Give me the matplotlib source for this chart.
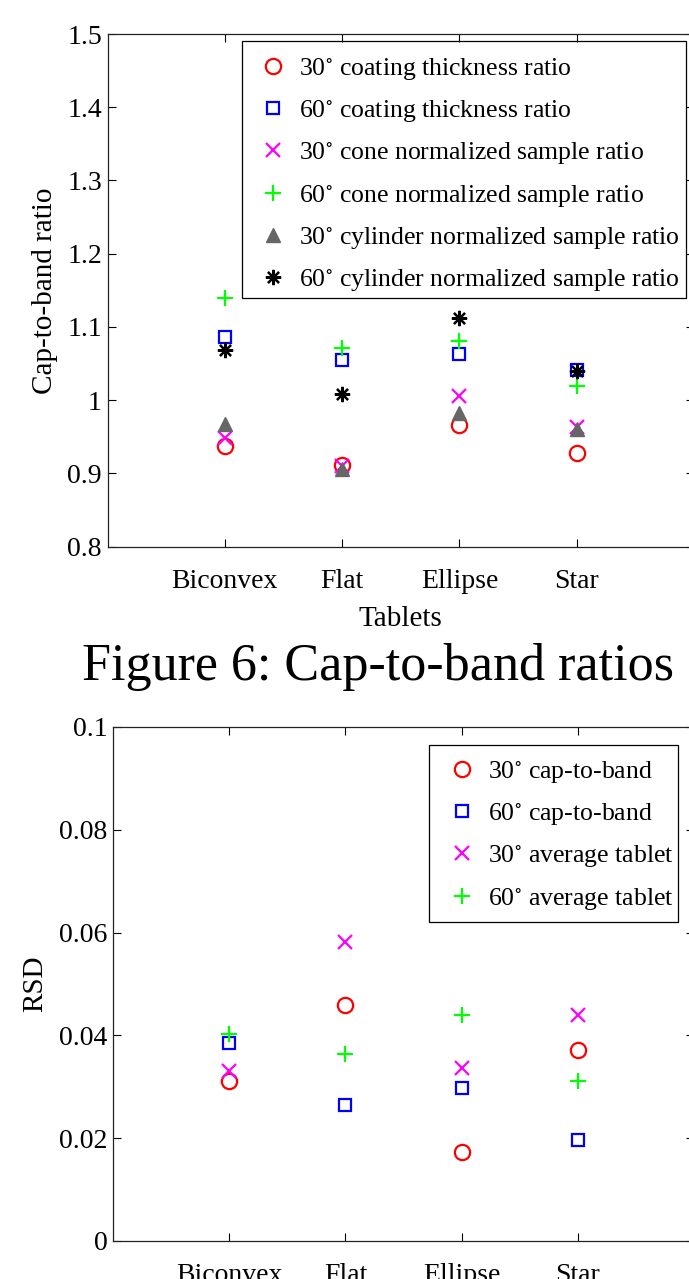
import numpy as np
import matplotlib
matplotlib.use("Agg")
import matplotlib.pyplot as plt
from matplotlib.ticker import FuncFormatter
from matplotlib.patches import Rectangle

plt.rcParams['font.family'] = ['Liberation Serif', 'DejaVu Serif']
plt.rcParams['mathtext.fontset'] = 'stix'

#### Data ####

tablets = ['Biconvex', 'Flat', 'Ellipse', 'Star']

# cap-to-band ratios (top plot)
coat30 = [0.937, 0.912, 0.966, 0.928]
coat60 = [1.086, 1.055, 1.063, 1.041]
cone30 = [0.948, 0.910, 1.005, 0.964]
cone60 = [1.140, 1.071, 1.081, 1.019]
cyl30 = [0.967, 0.906, 0.982, 0.961]
cyl60 = [1.069, 1.009, 1.112, 1.040]

# RSD (bottom plot)
rsd_cap30 = [0.0312, 0.0459, 0.0174, 0.0371]
rsd_cap60 = [0.0386, 0.0264, 0.0298, 0.0196]
rsd_avg30 = [0.0331, 0.0582, 0.0336, 0.0440]
rsd_avg60 = [0.0402, 0.0363, 0.0440, 0.0312]

deg = r'$^{\circ}$'
x = np.arange(1, len(tablets) + 1)

W, H = 689, 1279
fig = plt.figure(figsize=(W / 100, H / 100), dpi=100)
ax1 = fig.add_axes([107.5 / W, (H - 546.6) / H, 586.5 / W, 512.6 / H])
ax2 = fig.add_axes([113 / W, (H - 1241) / H, 581 / W, 514 / H])

gray = (0.4, 0.4, 0.4)
style = dict(linestyle='none')

def setup(ax):
    ax.set_xlim(0, 5)
    ax.set_xticks(x)
    ax.set_xticklabels(tablets)
    ax.tick_params(direction='in', top=True, right=True, length=6, width=0.8,
                   labelsize=20, colors='black')
    ax.tick_params(axis='x', pad=16)
    ax.tick_params(axis='y', pad=4)
    ax.yaxis.set_major_formatter(FuncFormatter(lambda v, p: '%g' % round(v, 4)))
    for s in ax.spines.values():
        s.set_linewidth(0.9)
        s.set_color('#222222')

def px_legend(ax, anchor, box):
    # legend text/markers placed from the anchor (pixels), frame drawn as a box
    leg = ax.legend(loc='upper left', bbox_to_anchor=(anchor[0] / W, 1 - anchor[1] / H),
                    bbox_transform=fig.transFigure, fontsize=18.5, frameon=False,
                    numpoints=1, handlelength=1.0, handletextpad=0.52,
                    borderpad=0, labelspacing=0.63, borderaxespad=0)
    x0, y0, x1, y1 = box
    fig.patches.append(Rectangle((x0 / W, 1 - y1 / H), (x1 - x0) / W, (y1 - y0) / H,
                                 transform=fig.transFigure, fill=False,
                                 edgecolor='black', linewidth=0.9))
    return leg

# top plot
ax1.plot(x, coat30, marker='o', ms=11, mew=1.6, mec='red', mfc='none', **style,
         label='30' + deg + ' coating thickness ratio')
ax1.plot(x, coat60, marker='s', ms=8.5, mew=1.6, mec='blue', mfc='none', **style,
         label='60' + deg + ' coating thickness ratio')
ax1.plot(x, cone30, marker='x', ms=10, mew=1.6, color='magenta', **style,
         label='30' + deg + ' cone normalized sample ratio')
ax1.plot(x, cone60, marker='+', ms=12, mew=1.6, color='lime', **style,
         label='60' + deg + ' cone normalized sample ratio')
ax1.plot(x, cyl30, marker='^', ms=10, mew=1, color=gray, **style,
         label='30' + deg + ' cylinder normalized sample ratio')
ax1.plot(x, cyl60, marker=(8, 2, 0), ms=11, mew=1.6, color='black', **style,
         label='60' + deg + ' cylinder normalized sample ratio')
setup(ax1)
ax1.set_ylim(0.8, 1.5)
ax1.set_yticks(np.arange(0.8, 1.55, 0.1))
ax1.set_xlabel('Tablets', fontsize=21, labelpad=8.5)
ax1.set_ylabel('Cap-to-band ratio', fontsize=21)
ax1.yaxis.set_label_coords(-0.085, 0.5)
px_legend(ax1, (260, 56), (242, 41, 686, 298))

# caption between plots
fig.text(82 / W, 1 - 680 / H, 'Figure 6: Cap-to-band ratios', fontsize=37.5,
         ha='left', va='baseline')

# bottom plot
ax2.plot(x, rsd_cap30, marker='o', ms=11, mew=1.6, mec='red', mfc='none', **style,
         label='30' + deg + ' cap-to-band')
ax2.plot(x, rsd_cap60, marker='s', ms=8.5, mew=1.6, mec='blue', mfc='none', **style,
         label='60' + deg + ' cap-to-band')
ax2.plot(x, rsd_avg30, marker='x', ms=10, mew=1.6, color='magenta', **style,
         label='30' + deg + ' average tablet')
ax2.plot(x, rsd_avg60, marker='+', ms=12, mew=1.6, color='lime', **style,
         label='60' + deg + ' average tablet')
setup(ax2)
ax2.set_ylim(0, 0.1)
ax2.set_yticks(np.arange(0, 0.101, 0.02))
ax2.set_ylabel('RSD', fontsize=21)
ax2.yaxis.set_label_coords(-0.112, 0.5)
px_legend(ax2, (449, 759), (429, 745, 678, 922))

fig.savefig('out.png', dpi=100)
